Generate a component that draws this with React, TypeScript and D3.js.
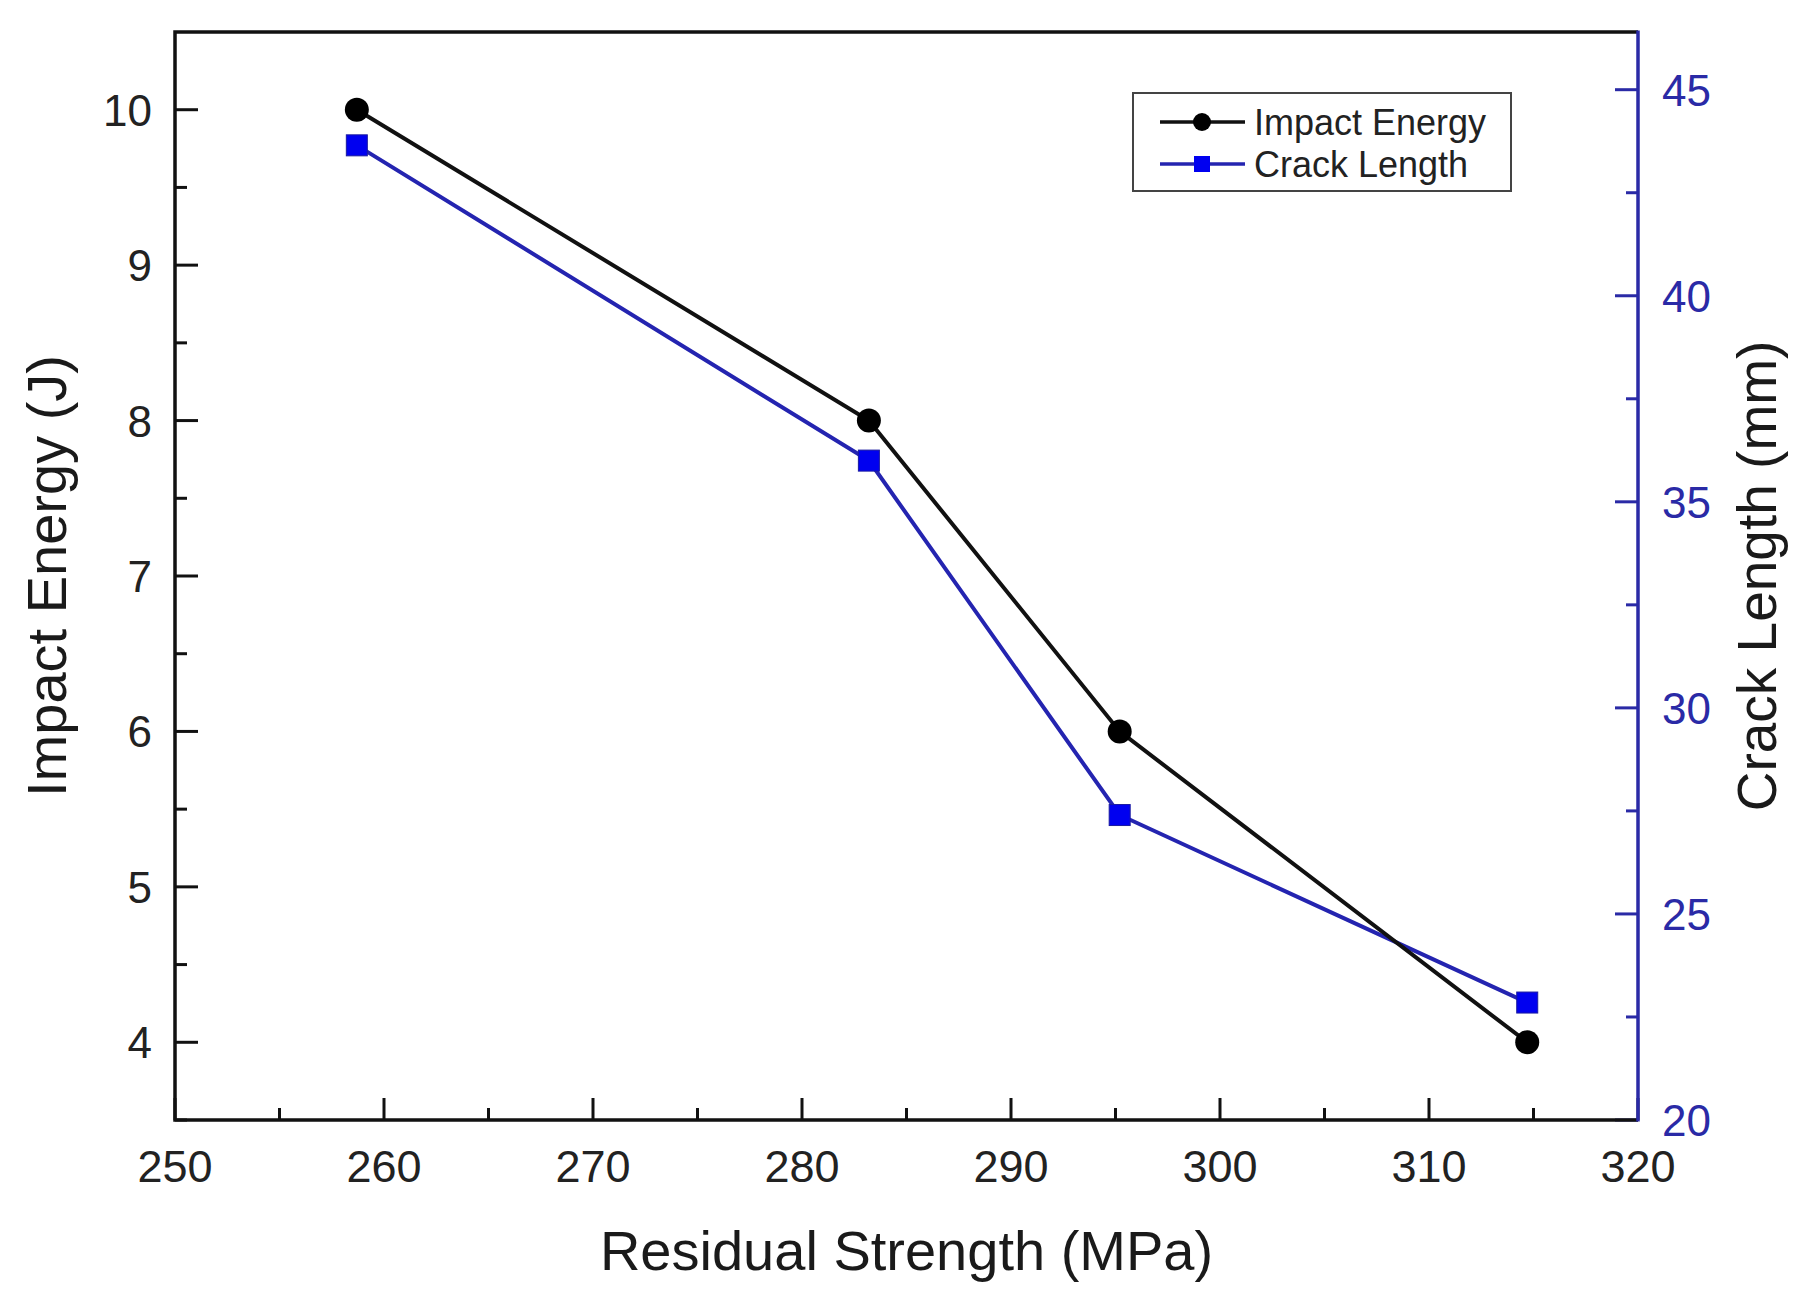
// Dual-axis line chart: impact energy and crack length vs residual strength
import { useEffect, useRef } from 'react';
import * as d3 from 'd3';

const residualStrength = [258.7, 283.2, 295.2, 314.7];
const impactEnergy = [10, 8, 6, 4];
const crackLength = [43.65, 36.0, 27.4, 22.85];

const xMajorTicks = [250, 260, 270, 280, 290, 300, 310, 320];
const xMinorTicks = [255, 265, 275, 285, 295, 305, 315];
const leftMajorTicks = [4, 5, 6, 7, 8, 9, 10];
const leftMinorTicks = [3.5, 4.5, 5.5, 6.5, 7.5, 8.5, 9.5];
const rightMajorTicks = [20, 25, 30, 35, 40, 45];
const rightMinorTicks = [22.5, 27.5, 32.5, 37.5, 42.5];

const seriesNames = ['Impact Energy', 'Crack Length'];

const WIDTH = 1809;
const HEIGHT = 1309;
const FONT = "'Liberation Sans', Arial, Helvetica, sans-serif";
const BLUE_AXIS = '#2a2aa6';
const BLUE_LINE = '#2424b0';
const BLUE_MARK = '#0000f0';

const App = () => {
  const svgRef = useRef<SVGSVGElement>(null);

  useEffect(() => {
    if (!svgRef.current) return;
    const svg = d3.select(svgRef.current);
    svg.selectAll('*').remove();

    const left = 175, right = 1638, top = 32, bottom = 1120;

    const x = d3.scaleLinear().domain([250, 320]).range([left, right]);
    const yL = d3.scaleLinear().domain([3.5, 10.5]).range([bottom, top]);
    const yR = d3.scaleLinear().domain([20, 46.4]).range([bottom, top]);

    svg.append('rect').attr('width', WIDTH).attr('height', HEIGHT).attr('fill', 'white');

    // ticks (inward)
    const ticks = svg.append('g');
    const tick = (x1: number, y1: number, x2: number, y2: number, color: string) =>
      ticks.append('line')
        .attr('x1', x1).attr('y1', y1).attr('x2', x2).attr('y2', y2)
        .attr('stroke', color).attr('stroke-width', 3);

    xMajorTicks.forEach(v => tick(x(v), bottom, x(v), bottom - 22, '#111'));
    xMinorTicks.forEach(v => tick(x(v), bottom, x(v), bottom - 12, '#111'));
    leftMajorTicks.forEach(v => tick(left, yL(v), left + 23, yL(v), '#111'));
    leftMinorTicks.forEach(v => tick(left, yL(v), left + 12, yL(v), '#111'));
    rightMajorTicks.forEach(v => tick(right, yR(v), right - 23, yR(v), BLUE_AXIS));
    rightMinorTicks.forEach(v => tick(right, yR(v), right - 12, yR(v), BLUE_AXIS));

    // frame
    svg.append('path')
      .attr('d', `M${right},${top} L${left},${top} L${left},${bottom} L${right},${bottom}`)
      .attr('fill', 'none').attr('stroke', '#111').attr('stroke-width', 3.5);
    svg.append('line')
      .attr('x1', right).attr('x2', right).attr('y1', top - 1.5).attr('y2', bottom + 1.5)
      .attr('stroke', BLUE_AXIS).attr('stroke-width', 3.5);

    // tick labels
    svg.append('g').selectAll('text')
      .data(xMajorTicks).enter().append('text')
      .attr('x', d => x(d)).attr('y', 1182)
      .attr('text-anchor', 'middle')
      .attr('font-family', FONT).attr('font-size', 45).attr('fill', '#222')
      .text(d => d);

    svg.append('g').selectAll('text')
      .data(leftMajorTicks).enter().append('text')
      .attr('x', 152).attr('y', d => yL(d) + 16)
      .attr('text-anchor', 'end')
      .attr('font-family', FONT).attr('font-size', 44).attr('fill', '#222')
      .text(d => d);

    svg.append('g').selectAll('text')
      .data(rightMajorTicks).enter().append('text')
      .attr('x', 1662).attr('y', d => yR(d) + 16)
      .attr('text-anchor', 'start')
      .attr('font-family', FONT).attr('font-size', 44).attr('fill', BLUE_AXIS)
      .text(d => d);

    // axis titles
    svg.append('text')
      .attr('x', (left + right) / 2).attr('y', 1270)
      .attr('text-anchor', 'middle')
      .attr('font-family', FONT).attr('font-size', 56).attr('fill', '#1a1a1a')
      .text('Residual Strength (MPa)');

    svg.append('text')
      .attr('transform', `translate(66,${(top + bottom) / 2}) rotate(-90)`)
      .attr('text-anchor', 'middle')
      .attr('font-family', FONT).attr('font-size', 56).attr('fill', '#1a1a1a')
      .text('Impact Energy (J)');

    svg.append('text')
      .attr('transform', `translate(1776,${(top + bottom) / 2}) rotate(-90)`)
      .attr('text-anchor', 'middle')
      .attr('font-family', FONT).attr('font-size', 55).attr('fill', '#1a1a1a')
      .text('Crack Length (mm)');

    // series
    const impactData = residualStrength.map((s, i) => ({ s, v: impactEnergy[i] }));
    const crackData = residualStrength.map((s, i) => ({ s, v: crackLength[i] }));

    const lineL = d3.line<{ s: number; v: number }>().x(d => x(d.s)).y(d => yL(d.v));
    const lineR = d3.line<{ s: number; v: number }>().x(d => x(d.s)).y(d => yR(d.v));

    svg.append('path').datum(crackData)
      .attr('d', lineR).attr('fill', 'none')
      .attr('stroke', BLUE_LINE).attr('stroke-width', 4);
    svg.append('path').datum(impactData)
      .attr('d', lineL).attr('fill', 'none')
      .attr('stroke', '#111').attr('stroke-width', 4);

    svg.append('g').selectAll('rect')
      .data(crackData).enter().append('rect')
      .attr('x', d => x(d.s) - 10.5).attr('y', d => yR(d.v) - 10.5)
      .attr('width', 21).attr('height', 21)
      .attr('fill', BLUE_MARK).attr('stroke', '#1a1aa0').attr('stroke-width', 1);

    svg.append('g').selectAll('circle')
      .data(impactData).enter().append('circle')
      .attr('cx', d => x(d.s)).attr('cy', d => yL(d.v))
      .attr('r', 12).attr('fill', '#000');

    // legend
    const legend = svg.append('g');
    legend.append('rect')
      .attr('x', 1133).attr('y', 93).attr('width', 378).attr('height', 98)
      .attr('fill', 'white').attr('stroke', '#444').attr('stroke-width', 2);

    const rows = [
      { y: 122, color: '#111', marker: 'circle' },
      { y: 164, color: BLUE_LINE, marker: 'square' },
    ];
    rows.forEach((r, i) => {
      legend.append('line')
        .attr('x1', 1160).attr('x2', 1245).attr('y1', r.y).attr('y2', r.y)
        .attr('stroke', r.color).attr('stroke-width', 3.5);
      if (r.marker === 'circle') {
        legend.append('circle').attr('cx', 1202).attr('cy', r.y).attr('r', 9).attr('fill', '#000');
      } else {
        legend.append('rect')
          .attr('x', 1194).attr('y', r.y - 8).attr('width', 16).attr('height', 16)
          .attr('fill', BLUE_MARK);
      }
      legend.append('text')
        .attr('x', 1254).attr('y', r.y + 13)
        .attr('font-family', FONT).attr('font-size', 36).attr('fill', '#222')
        .text(seriesNames[i]);
    });
  }, []);

  return (
    <div style={{ position: 'absolute', left: 0, top: 0, width: WIDTH, height: HEIGHT, background: 'white' }}>
      <svg ref={svgRef} width={WIDTH} height={HEIGHT} style={{ display: 'block' }} />
    </div>
  );
};

export default App;
